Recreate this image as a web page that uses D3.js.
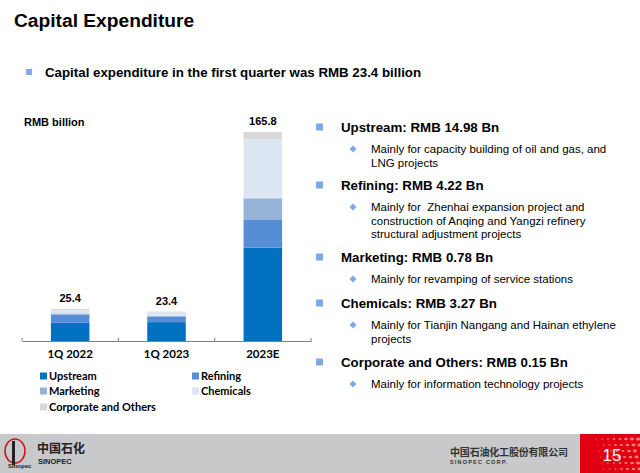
<!DOCTYPE html>
<html><head><meta charset="utf-8">
<script src="https://cdn.jsdelivr.net/npm/d3@7"></script>
<style>
html,body{margin:0;padding:0;background:#fff;}
svg{display:block;}
text{white-space:pre;}
</style></head>
<body>
<svg id="chart" width="640" height="473"></svg>
<script>
// ---- data ----
const categories = ["1Q 2022", "1Q 2023", "2023E"];
const seriesNames = ["Upstream", "Refining", "Marketing", "Chemicals", "Corporate and Others"];
const upstream  = [14.4, 14.98, 74.0];
const refining  = [6.6, 4.22, 22.5];
const marketing = [0.9, 0.78, 16.7];
const chemicals = [2.4, 3.27, 46.8];
const corporate = [1.1, 0.15, 5.8];
const totals    = [25.4, 23.4, 165.8];
const seriesColors = ["#0070c0", "#558ed5", "#95b3d7", "#dce6f2", "#d9d9d9"];

const headings = ["Upstream: RMB 14.98 Bn", "Refining: RMB 4.22 Bn", "Marketing: RMB 0.78 Bn", "Chemicals: RMB 3.27 Bn", "Corporate and Others: RMB 0.15 Bn"];
const details = [
  ["Mainly for capacity building of oil and gas, and", "LNG projects"],
  ["Mainly for  Zhenhai expansion project and", "construction of Anqing and Yangzi refinery", "structural adjustment projects"],
  ["Mainly for revamping of service stations"],
  ["Mainly for Tianjin Nangang and Hainan ethylene", "projects"],
  ["Mainly for information technology projects"]
];

const rows = categories.map((c, i) => ({
  cat: c,
  "Upstream": upstream[i], "Refining": refining[i], "Marketing": marketing[i],
  "Chemicals": chemicals[i], "Corporate and Others": corporate[i], total: totals[i]
}));

const svg = d3.select("#chart");
const ARIAL = "'Liberation Sans', Arial, sans-serif";
const CAL = "Lato, 'Open Sans', sans-serif";

// ---- title ----
svg.append("text").attr("x", 14).attr("y", 27).attr("font-family", ARIAL)
  .attr("font-weight", "bold").attr("font-size", 19.2).attr("fill", "#000").text("Capital Expenditure");
svg.append("rect").attr("x", 26).attr("y", 69).attr("width", 6).attr("height", 6).attr("fill", "#7fa9e6");
svg.append("text").attr("x", 45).attr("y", 77).attr("font-family", ARIAL)
  .attr("font-weight", "bold").attr("font-size", 13.3).attr("fill", "#000")
  .text("Capital expenditure in the first quarter was RMB 23.4 billion");

// ---- chart ----
const x = d3.scaleBand().domain(categories).range([22, 311]).paddingInner(0.6).paddingOuter(0.3);
const y = d3.scaleLinear().domain([0, 165.8]).range([341, 132]);

const stack = d3.stack().keys(seriesNames);
const stacked = stack(rows);
const color = d3.scaleOrdinal().domain(seriesNames).range(seriesColors);

svg.append("g").selectAll("g").data(stacked).join("g")
  .attr("fill", d => color(d.key))
  .selectAll("rect").data(d => d).join("rect")
  .attr("x", d => x(d.data.cat))
  .attr("width", x.bandwidth())
  .attr("y", d => y(d[1]))
  .attr("height", d => y(d[0]) - y(d[1]));

svg.append("g").selectAll("text").data(rows).join("text")
  .attr("x", d => x(d.cat) + x.bandwidth() / 2)
  .attr("y", d => y(d.total) - 7)
  .attr("text-anchor", "middle").attr("font-family", ARIAL).attr("font-weight", "bold")
  .attr("font-size", 11).attr("fill", "#000").text(d => d.total.toFixed(1));

svg.append("text").attr("x", 24).attr("y", 126).attr("font-family", ARIAL)
  .attr("font-weight", "bold").attr("font-size", 11).text("RMB billion");

// axis
const axis = svg.append("g").attr("transform", "translate(0,341)")
  .call(d3.axisBottom(x).tickSize(0).tickPadding(9));
axis.select(".domain").attr("stroke", "#808080").attr("stroke-width", 1);
axis.selectAll("text").attr("font-family", CAL).attr("font-weight", "bold")
  .attr("font-size", 11.5).attr("fill", "#000");
const bounds = categories.map(c => x(c) + x.bandwidth() / 2 - x.step() / 2)
  .concat([x(categories[categories.length - 1]) + x.bandwidth() / 2 + x.step() / 2]);
svg.append("g").selectAll("line").data(bounds).join("line")
  .attr("x1", d => d).attr("x2", d => d).attr("y1", 338).attr("y2", 341)
  .attr("stroke", "#808080");

// legend
const legPos = [[40, 376], [192, 376], [40, 391], [192, 391], [40, 407]];
const leg = svg.append("g").selectAll("g").data(seriesNames).join("g")
  .attr("transform", (d, i) => `translate(${legPos[i][0]},${legPos[i][1]})`);
leg.append("rect").attr("x", 0).attr("y", -3.5).attr("width", 7).attr("height", 7).attr("fill", d => color(d));
leg.append("text").attr("x", 9).attr("y", 4).attr("font-family", CAL).attr("font-weight", "bold")
  .attr("font-size", 11).attr("fill", "#000").text(d => d);

// ---- right text ----
const headY = [127, 185, 257, 303, 362];
const lineH = 13.5;
headings.forEach((h, i) => {
  svg.append("rect").attr("x", 316).attr("y", headY[i] - 3.5).attr("width", 7).attr("height", 7).attr("fill", "#7fa9e6");
  svg.append("text").attr("x", 341).attr("y", headY[i] + 5).attr("font-family", ARIAL)
    .attr("font-weight", "bold").attr("font-size", 13.3).attr("fill", "#000").text(h);
  details[i].forEach((t, j) => {
    const cy = headY[i] + 22 + j * lineH;
    if (j === 0) {
      svg.append("path").attr("d", `M353,${cy - 3.5}L356.5,${cy}L353,${cy + 3.5}L349.5,${cy}Z`).attr("fill", "#7fa9e6");
    }
    svg.append("text").attr("x", 371).attr("y", cy + 4).attr("font-family", ARIAL)
      .attr("font-size", 11.5).attr("fill", "#000").text(t);
  });
});

// ---- footer ----
svg.append("rect").attr("x", 0).attr("y", 434).attr("width", 640).attr("height", 39).attr("fill", "#c8c9cb");
svg.append("rect").attr("x", 580).attr("y", 434).attr("width", 60).attr("height", 39).attr("fill", "#e00012");
const dotG = svg.append("g").attr("fill", "#ff9a8c").attr("opacity", 0.8);
for (let r = 0; r < 6; r++) {
  for (let c = 0; c < 8; c++) {
    const cx = 596 + c * 6 + r * 1.5, cy = 439 + r * 6;
    if (cx < 640) dotG.append("ellipse").attr("cx", cx).attr("cy", cy)
      .attr("rx", 0.6 + c * 0.25).attr("ry", 0.5 + c * 0.15);
  }
}
svg.append("text").attr("x", 612).attr("y", 461).attr("text-anchor", "middle").attr("font-family", ARIAL)
  .attr("font-size", 17).attr("fill", "#fff").text("15");
// logo
svg.append("ellipse").attr("cx", 15).attr("cy", 451).attr("rx", 10).attr("ry", 12)
  .attr("fill", "none").attr("stroke", "#d0101a").attr("stroke-width", 1.5);
svg.append("rect").attr("x", 12).attr("y", 441).attr("width", 3).attr("height", 24).attr("fill", "#222");
svg.append("text").attr("x", 8).attr("y", 468).attr("font-family", ARIAL).attr("font-weight", "bold")
  .attr("font-size", 6).attr("fill", "#222").text("Sinopec");
svg.append("text").attr("x", 37).attr("y", 453).attr("font-family", "'Noto Sans CJK SC'")
  .attr("font-weight", "bold").attr("font-size", 12).attr("fill", "#222").text("中国石化");
svg.append("text").attr("x", 38).attr("y", 464).attr("font-family", ARIAL)
  .attr("font-weight", "bold").attr("font-size", 7.5).attr("fill", "#222").text("SINOPEC");
svg.append("text").attr("x", 450).attr("y", 456).attr("font-family", "'Noto Sans CJK SC'")
  .attr("font-size", 10).attr("font-weight", "bold").attr("fill", "#333")
  .attr("textLength", 118).text("中国石油化工股份有限公司");
svg.append("text").attr("x", 450).attr("y", 464).attr("font-family", ARIAL)
  .attr("font-size", 5.5).attr("font-weight", "bold").attr("fill", "#333")
  .attr("letter-spacing", 1.2).text("SINOPEC CORP.");
</script>
</body></html>
